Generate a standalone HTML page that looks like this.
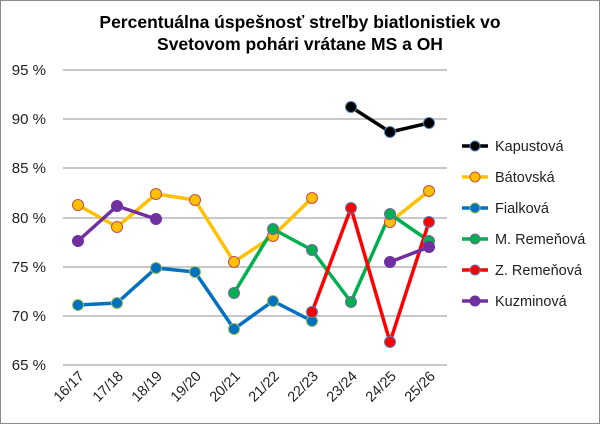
<!DOCTYPE html>
<html><head><meta charset="utf-8"><style>
body{margin:0;background:#fff}
svg{display:block;font-family:"Liberation Sans",sans-serif}
</style></head><body>
<svg width="600" height="424" viewBox="0 0 600 424">
<rect x="0.5" y="0.5" width="599" height="423" fill="#fff" stroke="#8c8c8c"/>
<text x="300" y="28" text-anchor="middle" font-size="17.5" font-weight="bold">Percentuálna úspešnosť streľby biatlonistiek vo</text>
<text x="300" y="50" text-anchor="middle" font-size="17.5" font-weight="bold">Svetovom pohári vrátane MS a OH</text>
<g stroke="#a6a6a6" stroke-width="1.3">
<line x1="63" x2="447" y1="70" y2="70"/><line x1="63" x2="447" y1="119" y2="119"/>
<line x1="63" x2="447" y1="168" y2="168"/><line x1="63" x2="447" y1="218" y2="218"/>
<line x1="63" x2="447" y1="267" y2="267"/><line x1="63" x2="447" y1="316" y2="316"/>
<line x1="63" x2="447" y1="365" y2="365"/></g>
<g font-size="15" fill="#222" text-anchor="end">
<text x="46" y="75">95 %</text><text x="46" y="124">90 %</text><text x="46" y="173">85 %</text>
<text x="46" y="223">80 %</text><text x="46" y="272">75 %</text><text x="46" y="321">70 %</text><text x="46" y="370">65 %</text></g>
<g font-size="14.5" fill="#222" text-anchor="end">
<text transform="translate(85,377) rotate(-45)">16/17</text>
<text transform="translate(124,377) rotate(-45)">17/18</text>
<text transform="translate(163,377) rotate(-45)">18/19</text>
<text transform="translate(202,377) rotate(-45)">19/20</text>
<text transform="translate(241,377) rotate(-45)">20/21</text>
<text transform="translate(280,377) rotate(-45)">21/22</text>
<text transform="translate(319,377) rotate(-45)">22/23</text>
<text transform="translate(358,377) rotate(-45)">23/24</text>
<text transform="translate(397,377) rotate(-45)">24/25</text>
<text transform="translate(436,377) rotate(-45)">25/26</text></g>
<g fill="none" stroke-width="3.5" stroke-linejoin="round">
<polyline stroke="#ffc000" points="78,205 117,227 156,194 195,200 234,262 273,236 312,198"/>
<polyline stroke="#ffc000" points="390,222 429,191"/>
<polyline stroke="#0070c0" points="78,305 117,303 156,268 195,272 234,329 273,301 312,321"/>
<polyline stroke="#00b050" points="234,293 273,229 312,250 351,302 390,214 429,241"/>
<polyline stroke="#ff0000" points="312,312 351,208 390,342 429,222"/>
<polyline stroke="#7030a0" points="78,241 117,206 156,219"/>
<polyline stroke="#7030a0" points="390,262 429,247"/>
<polyline stroke="#000" points="351,107 390,132 429,123"/>
</g>
<g stroke-width="1">
<g fill="#ffc000" stroke="#c0504d"><circle cx="78" cy="205" r="5.5"/><circle cx="117" cy="227" r="5.5"/><circle cx="156" cy="194" r="5.5"/><circle cx="195" cy="200" r="5.5"/><circle cx="234" cy="262" r="5.5"/><circle cx="273" cy="236" r="5.5"/><circle cx="312" cy="198" r="5.5"/><circle cx="390" cy="222" r="5.5"/><circle cx="429" cy="191" r="5.5"/></g>
<g fill="#0070c0" stroke="#9bbb59"><circle cx="78" cy="305" r="5.5"/><circle cx="117" cy="303" r="5.5"/><circle cx="156" cy="268" r="5.5"/><circle cx="195" cy="272" r="5.5"/><circle cx="234" cy="329" r="5.5"/><circle cx="273" cy="301" r="5.5"/><circle cx="312" cy="321" r="5.5"/></g>
<g fill="#00b050" stroke="#8064a2"><circle cx="234" cy="293" r="5.5"/><circle cx="273" cy="229" r="5.5"/><circle cx="312" cy="250" r="5.5"/><circle cx="351" cy="302" r="5.5"/><circle cx="390" cy="214" r="5.5"/><circle cx="429" cy="241" r="5.5"/></g>
<g fill="#ff0000" stroke="#4f81bd"><circle cx="312" cy="312" r="5.5"/><circle cx="351" cy="208" r="5.5"/><circle cx="390" cy="342" r="5.5"/><circle cx="429" cy="222" r="5.5"/></g>
<g fill="#7030a0" stroke="#7030a0"><circle cx="78" cy="241" r="5.5"/><circle cx="117" cy="206" r="5.5"/><circle cx="156" cy="219" r="5.5"/><circle cx="390" cy="262" r="5.5"/><circle cx="429" cy="247" r="5.5"/></g>
<g fill="#000" stroke="#4f81bd"><circle cx="351" cy="107" r="5.5"/><circle cx="390" cy="132" r="5.5"/><circle cx="429" cy="123" r="5.5"/></g>
</g>
<g stroke-width="3.5">
<line x1="462" x2="488" y1="146" y2="146" stroke="#000"/>
<line x1="462" x2="488" y1="177" y2="177" stroke="#ffc000"/>
<line x1="462" x2="488" y1="208" y2="208" stroke="#0070c0"/>
<line x1="462" x2="488" y1="239" y2="239" stroke="#00b050"/>
<line x1="462" x2="488" y1="270" y2="270" stroke="#ff0000"/>
<line x1="462" x2="488" y1="301" y2="301" stroke="#7030a0"/></g>
<g stroke-width="1">
<circle cx="475" cy="146" r="5" fill="#000" stroke="#4f81bd"/>
<circle cx="475" cy="177" r="5" fill="#ffc000" stroke="#c0504d"/>
<circle cx="475" cy="208" r="5" fill="#0070c0" stroke="#9bbb59"/>
<circle cx="475" cy="239" r="5" fill="#00b050" stroke="#8064a2"/>
<circle cx="475" cy="270" r="5" fill="#ff0000" stroke="#4f81bd"/>
<circle cx="475" cy="301" r="5" fill="#7030a0" stroke="#7030a0"/></g>
<g font-size="14.5" fill="#222">
<text x="495" y="151">Kapustová</text><text x="495" y="182">Bátovská</text>
<text x="495" y="213">Fialková</text><text x="495" y="244">M. Remeňová</text>
<text x="495" y="275">Z. Remeňová</text><text x="495" y="306">Kuzminová</text></g>
</svg>
</body></html>
